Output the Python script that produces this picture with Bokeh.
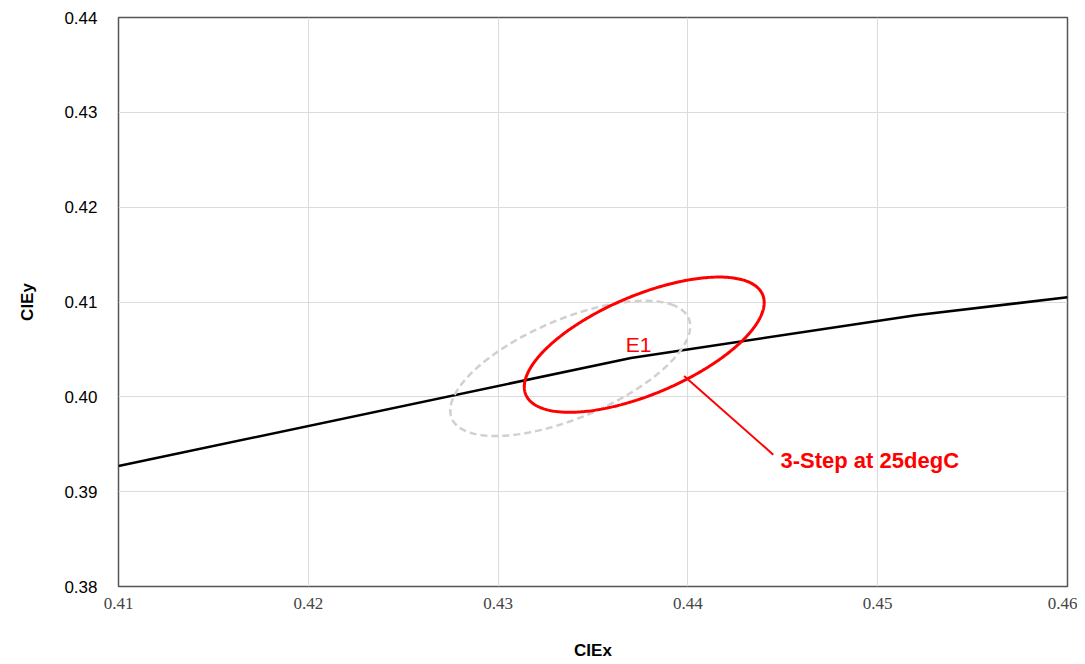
import numpy as np
from bokeh.plotting import figure
from bokeh.models import FixedTicker, PrintfTickFormatter, Range1d
from bokeh.core.properties import value
from bokeh.embed import file_html
from bokeh.resources import INLINE

# Planckian locus segment (CIE x, y)
locus_x = [0.41, 0.437, 0.452, 0.46]
locus_y = [0.3927, 0.4041, 0.4086, 0.4105]

# 3-step MacAdam ellipses: reference (grey, dashed) and E1 (red)
ell_names = ["ref", "E1"]
ell_cx = [0.4338, 0.4377]
ell_cy = [0.4030, 0.4055]
ell_a = [0.0086, 0.0086]
ell_b = [0.0041, 0.0041]
ell_theta_deg = [50.5, 50.5]

# annotation
leader_x = [0.4398, 0.4445]
leader_y = [0.4022, 0.3939]
note_text = "3-Step at 25degC"
note_x = 0.44488
note_y = 0.3933
e1_text = "E1"
e1_x = 0.4374
e1_y = 0.4055

x_ticks = [0.41, 0.42, 0.43, 0.44, 0.45, 0.46]
y_ticks = [0.38, 0.39, 0.40, 0.41, 0.42, 0.43, 0.44]

p = figure(width=1077, height=662, output_backend="svg", toolbar_location=None,
           x_range=Range1d(0.41, 0.46), y_range=Range1d(0.38, 0.44),
           min_border_left=118, min_border_right=10, min_border_top=17, min_border_bottom=73)
p.background_fill_color = "white"
p.border_fill_color = "white"
p.outline_line_color = "#555555"
p.outline_line_width = 1.5

for ax in (p.xaxis, p.yaxis):
    ax.axis_line_color = None
    ax.major_tick_line_color = None
    ax.minor_tick_line_color = None
    ax.major_tick_out = 0
    ax.major_tick_in = 0
    ax.minor_tick_out = 0
    ax.axis_label_text_font_style = "bold"
    ax.axis_label_text_font = "Liberation Sans"
    ax.axis_label_text_font_size = "17px"
    ax.axis_label_text_color = "black"

p.xaxis.ticker = FixedTicker(ticks=x_ticks)
p.yaxis.ticker = FixedTicker(ticks=y_ticks)
p.xaxis.formatter = PrintfTickFormatter(format="%.2f")
p.yaxis.formatter = PrintfTickFormatter(format="%.2f")
p.xaxis.major_label_text_font = "Liberation Serif"
p.xaxis.major_label_text_font_size = "17px"
p.xaxis.major_label_text_color = "#444444"
p.xaxis.major_label_standoff = 11
p.yaxis.major_label_text_font = "Liberation Sans"
p.yaxis.major_label_text_font_size = "17px"
p.yaxis.major_label_text_color = "black"
p.yaxis.major_label_standoff = 21
p.xaxis.axis_label = "CIEx"
p.yaxis.axis_label = "CIEy"
p.xaxis.axis_label_standoff = 29
p.yaxis.axis_label_standoff = 24

p.xgrid.grid_line_color = "#dcdcdc"
p.ygrid.grid_line_color = "#dcdcdc"
p.xgrid.grid_line_width = 1
p.ygrid.grid_line_width = 1

# locus
p.line(locus_x, locus_y, line_color="black", line_width=2.5)

# ellipses
t = np.linspace(0, 2 * np.pi, 361)
styles = [dict(line_color="#d0d0d0", line_width=2.5, line_dash="7 4"),
          dict(line_color="#ff0000", line_width=3)]
for cx, cy, a, b, th, st in zip(ell_cx, ell_cy, ell_a, ell_b, ell_theta_deg, styles):
    r = np.deg2rad(th)
    xs = cx + a * np.cos(t) * np.cos(r) - b * np.sin(t) * np.sin(r)
    ys = cy + a * np.cos(t) * np.sin(r) + b * np.sin(t) * np.cos(r)
    p.line(xs, ys, **st)

# annotations
p.line(leader_x, leader_y, line_color="#ff0000", line_width=2)
p.text(x=[note_x], y=[note_y], text=[note_text], text_color="#ff0000",
       text_font=value("Liberation Sans"), text_font_style="bold",
       text_font_size="22px", text_align="left", text_baseline="middle")
p.text(x=[e1_x], y=[e1_y], text=[e1_text], text_color="#ff0000",
       text_font=value("Liberation Sans"), text_font_size="21px",
       text_align="center", text_baseline="middle")

open("out.html", "w").write(file_html(p, INLINE))
